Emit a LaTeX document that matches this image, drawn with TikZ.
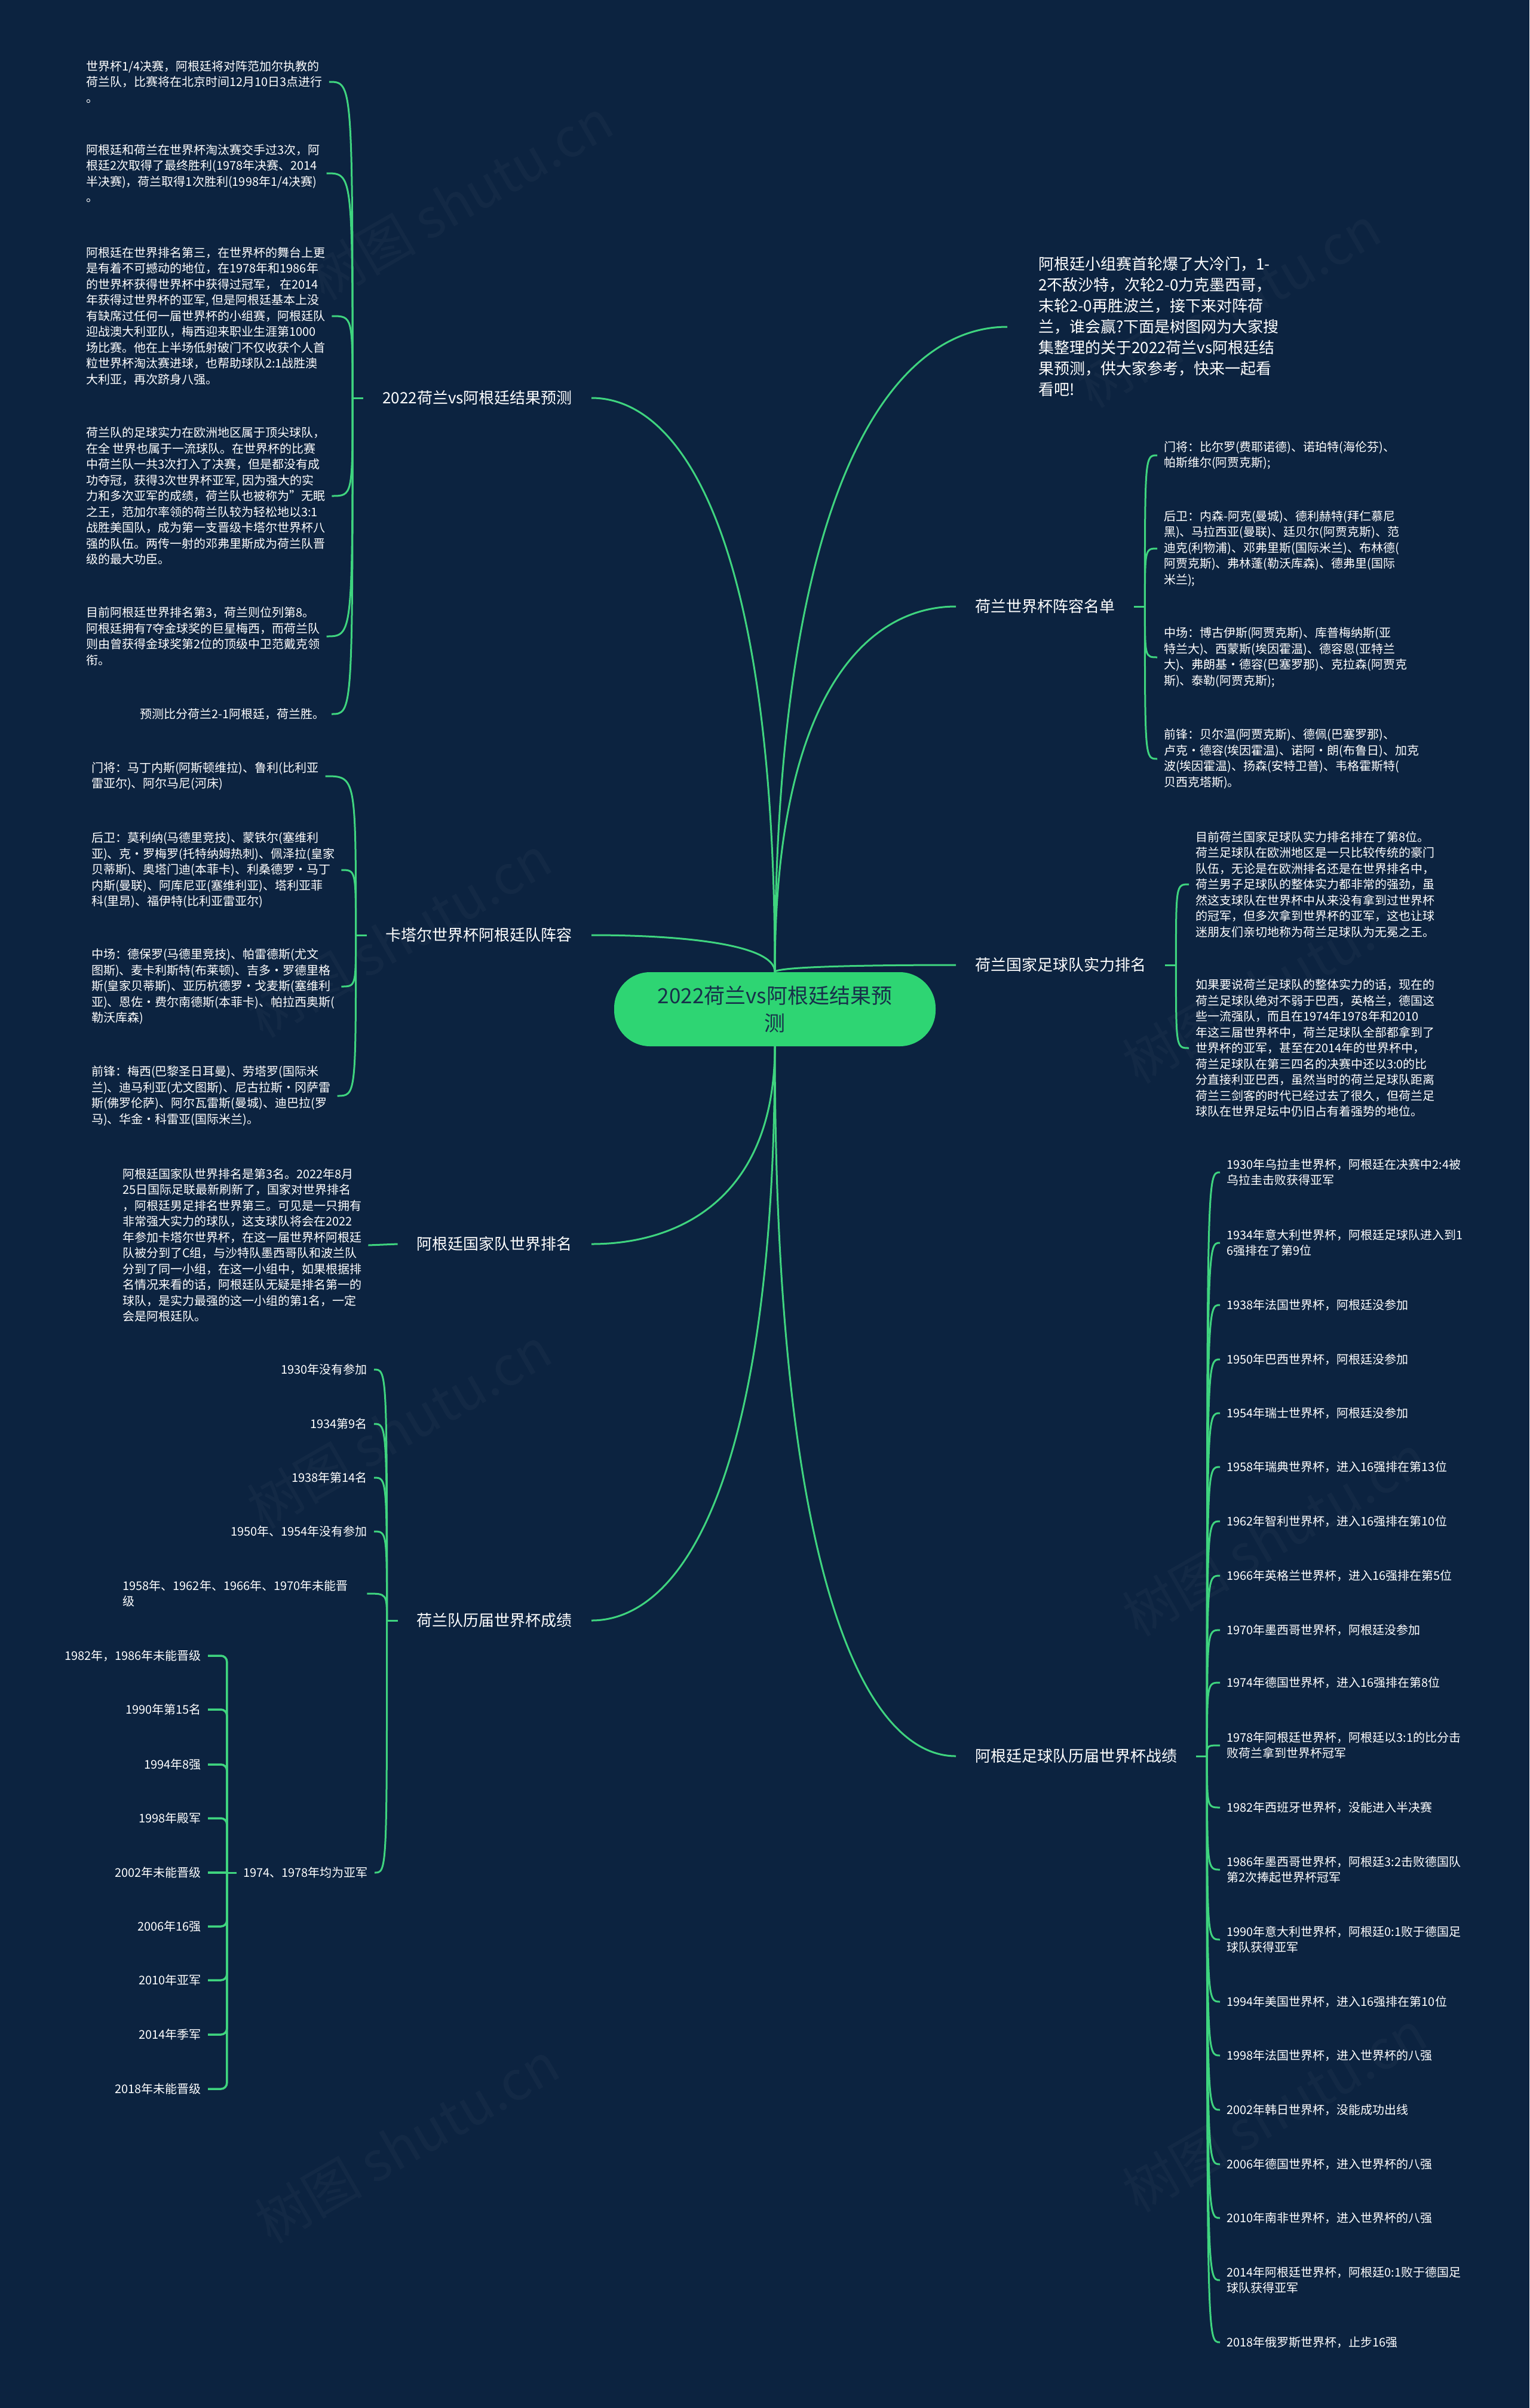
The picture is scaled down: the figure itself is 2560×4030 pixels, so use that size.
\documentclass[tikz,border=0pt]{standalone}
\usepackage{fontspec}
\setmainfont{Noto Sans CJK SC}
\usepackage{tikz}
\usetikzlibrary{calc}
\definecolor{bg}{HTML}{0C2340}
\definecolor{twiggreen}{HTML}{3FD47F}
\definecolor{rootgreen}{HTML}{2ED573}
\definecolor{rootink}{HTML}{17304A}

\begin{document}
\begin{tikzpicture}[x=1pt, y=-1pt,
      root/.style={fill=rootgreen, rounded corners=60pt, minimum width=538pt, minimum height=124pt, align=center, text=rootink, font=\fontsize{35}{46}\selectfont},
      topic/.style={inner xsep=32pt, inner ysep=6pt, text=white, font=\fontsize{26}{34}\selectfont},
      intro/.style={inner xsep=52pt, inner ysep=6pt, align=left, text=white, font=\fontsize{26}{35}\selectfont},
      leaf/.style={inner xsep=11pt, inner ysep=4pt, align=left, text=white, font=\fontsize{20}{26.5}\selectfont},
      trunk/.style={draw=twiggreen, line width=3pt, to path={.. controls ($(\tikztostart)!0.75!(\tikztostart |- \tikztotarget)$) and ($(\tikztotarget)!0.5!(\tikztotarget -| \tikztostart)$) .. (\tikztotarget)}},
      twig/.style={draw=twiggreen, line width=3pt, to path={.. controls (\tikztostart |- \tikztotarget) .. (\tikztotarget)}},
      stub/.style={draw=twiggreen, line width=3pt},
      brace/.style={draw=twiggreen, line width=3.5pt, rounded corners=10pt},
      wmark/.style={rotate=30, text=white, opacity=0.03, font=\fontsize{90}{90}\selectfont}
    ]
    \fill[bg] (0,0) rectangle (2560,4030);
    \useasboundingbox (0,0) rectangle (2560,4030);

    % watermark
    \node[wmark] (wm1) at (771,334) {树图 shutu.cn};
    \node[wmark] (wm2) at (668,1568) {树图 shutu.cn};
    \node[wmark] (wm3) at (668,2390) {树图 shutu.cn};
    \node[wmark] (wm4) at (681,3586) {树图 shutu.cn};
    \node[wmark] (wm5) at (2056,514) {树图 shutu.cn};
    \node[wmark] (wm6) at (2133,1645) {树图 shutu.cn};
    \node[wmark] (wm7) at (2133,2570) {树图 shutu.cn};
    \node[wmark] (wm8) at (2133,3534) {树图 shutu.cn};

    \node[root] (cen) at (1297,1689) {2022荷兰vs阿根廷结果预\\测};

    % main topics
    \node[topic, anchor=east] (pred) at (990,666) {2022荷兰vs阿根廷结果预测};
    \node[topic, anchor=east] (squad) at (990,1565) {卡塔尔世界杯阿根廷队阵容};
    \node[topic, anchor=east] (argrank) at (990,2082) {阿根廷国家队世界排名};
    \node[topic, anchor=east] (nedhist) at (990,2712) {荷兰队历届世界杯成绩};
    \node[intro, anchor=west] (intro) at (1686,547) {阿根廷小组赛首轮爆了大冷门，1-\\2不敌沙特，次轮2-0力克墨西哥，\\末轮2-0再胜波兰，接下来对阵荷\\兰，谁会赢?下面是树图网为大家搜\\集整理的关于2022荷兰vs阿根廷结\\果预测，供大家参考，快来一起看\\看吧!};
    \node[topic, anchor=west] (nedsquad) at (1600,1015) {荷兰世界杯阵容名单};
    \node[topic, anchor=west] (nedrank) at (1600,1615) {荷兰国家足球队实力排名};
    \node[topic, anchor=west] (arghist) at (1600,2939) {阿根廷足球队历届世界杯战绩};

    \draw[trunk] (cen.north) to (pred.east);
    \draw[trunk] (cen.north) to (squad.east);
    \draw[trunk] (cen.south) to (argrank.east);
    \draw[trunk] (cen.south) to (nedhist.east);
    \draw[trunk] (cen.north) to (intro.west);
    \draw[trunk] (cen.north) to (nedsquad.west);
    \draw[trunk] (cen.north) to (nedrank.west);
    \draw[trunk] (cen.south) to (arghist.west);

    % 2022 prediction
    \node[leaf, anchor=west] (pred1) at (133,137) {世界杯1/4决赛，阿根廷将对阵范加尔执教的\\荷兰队，比赛将在北京时间12月10日3点进行\\。};
    \node[leaf, anchor=west] (pred2) at (133,290) {阿根廷和荷兰在世界杯淘汰赛交手过3次，阿\\根廷2次取得了最终胜利(1978年决赛、2014\\半决赛)，荷兰取得1次胜利(1998年1/4决赛)\\。};
    \node[leaf, anchor=west] (pred3) at (133,529) {阿根廷在世界排名第三，在世界杯的舞台上更\\是有着不可撼动的地位，在1978年和1986年\\的世界杯获得世界杯中获得过冠军， 在2014\\年获得过世界杯的亚军, 但是阿根廷基本上没\\有缺席过任何一届世界杯的小组赛，阿根廷队\\迎战澳大利亚队，梅西迎来职业生涯第1000\\场比赛。他在上半场低射破门不仅收获个人首\\粒世界杯淘汰赛进球，也帮助球队2:1战胜澳\\大利亚，再次跻身八强。};
    \node[leaf, anchor=west] (pred4) at (133,830) {荷兰队的足球实力在欧洲地区属于顶尖球队，\\在全 世界也属于一流球队。在世界杯的比赛\\中荷兰队一共3次打入了决赛，但是都没有成\\功夺冠，获得3次世界杯亚军, 因为强大的实\\力和多次亚军的成绩，荷兰队也被称为"无眠\\之王，范加尔率领的荷兰队较为轻松地以3:1\\战胜美国队，成为第一支晋级卡塔尔世界杯八\\强的队伍。两传一射的邓弗里斯成为荷兰队晋\\级的最大功臣。};
    \node[leaf, anchor=west] (pred5) at (133,1065) {目前阿根廷世界排名第3，荷兰则位列第8。\\阿根廷拥有7夺金球奖的巨星梅西，而荷兰队\\则由曾获得金球奖第2位的顶级中卫范戴克领\\衔。};
    \node[leaf, anchor=east] (pred6) at (555,1195) {预测比分荷兰2-1阿根廷，荷兰胜。};

    \draw[stub] (pred.west) -- ++(-18,0) coordinate (predp);
    \draw[twig] (predp) to (pred1.east);
    \draw[twig] (predp) to (pred2.east);
    \draw[twig] (predp) to (pred3.east);
    \draw[twig] (predp) to (pred4.east);
    \draw[twig] (predp) to (pred5.east);
    \draw[twig] (predp) to (pred6.east);

    % Argentina squad
    \node[leaf, anchor=west] (squad1) at (142,1299) {门将：马丁内斯(阿斯顿维拉)、鲁利(比利亚\\雷亚尔)、阿尔马尼(河床)};
    \node[leaf, anchor=west] (squad2) at (142,1456) {后卫：莫利纳(马德里竞技)、蒙铁尔(塞维利\\亚)、克·罗梅罗(托特纳姆热刺)、佩泽拉(皇家\\贝蒂斯)、奥塔门迪(本菲卡)、利桑德罗·马丁\\内斯(曼联)、阿库尼亚(塞维利亚)、塔利亚菲\\科(里昂)、福伊特(比利亚雷亚尔)};
    \node[leaf, anchor=west] (squad3) at (142,1651) {中场：德保罗(马德里竞技)、帕雷德斯(尤文\\图斯)、麦卡利斯特(布莱顿)、吉多·罗德里格\\斯(皇家贝蒂斯)、亚历杭德罗·戈麦斯(塞维利\\亚)、恩佐·费尔南德斯(本菲卡)、帕拉西奥斯(\\勒沃库森)};
    \node[leaf, anchor=west] (squad4) at (142,1834) {前锋：梅西(巴黎圣日耳曼)、劳塔罗(国际米\\兰)、迪马利亚(尤文图斯)、尼古拉斯·冈萨雷\\斯(佛罗伦萨)、阿尔瓦雷斯(曼城)、迪巴拉(罗\\马)、华金·科雷亚(国际米兰)。};

    \draw[stub] (squad.west) -- ++(-18,0) coordinate (squadp);
    \draw[twig] (squadp) to (squad1.east);
    \draw[twig] (squadp) to (squad2.east);
    \draw[twig] (squadp) to (squad3.east);
    \draw[twig] (squadp) to (squad4.east);

    % Argentina ranking
    \node[leaf, anchor=west] (argrank1) at (194,2084) {阿根廷国家队世界排名是第3名。2022年8月\\25日国际足联最新刷新了，国家对世界排名\\，阿根廷男足排名世界第三。可见是一只拥有\\非常强大实力的球队，这支球队将会在2022\\年参加卡塔尔世界杯，在这一届世界杯阿根廷\\队被分到了C组，与沙特队墨西哥队和波兰队\\分到了同一小组，在这一小组中，如果根据排\\名情况来看的话，阿根廷队无疑是排名第一的\\球队，是实力最强的这一小组的第1名，一定\\会是阿根廷队。};
    \draw[stub] (argrank.west) -- (argrank1.east);

    % Netherlands world cup history
    \node[leaf, anchor=east] (n30) at (626,2292) {1930年没有参加};
    \node[leaf, anchor=east] (n34) at (626,2383) {1934第9名};
    \node[leaf, anchor=east] (n38) at (626,2473) {1938年第14名};
    \node[leaf, anchor=east] (n50) at (626,2563) {1950年、1954年没有参加};
    \node[leaf, anchor=west, text width=398pt] (n58) at (194,2667) {1958年、1962年、1966年、1970年未能晋\\级};
    \node[leaf, anchor=east] (n74) at (627,3134) {1974、1978年均为亚军};

    \draw[stub] (nedhist.west) -- ++(-18,0) coordinate (nedp);
    \draw[twig] (nedp) to (n30.east);
    \draw[twig] (nedp) to (n34.east);
    \draw[twig] (nedp) to (n38.east);
    \draw[twig] (nedp) to (n50.east);
    \draw[twig] (nedp) to (n58.east);
    \draw[twig] (nedp) to (n74.east);

    \node[leaf, anchor=east] (y82) at (348,2771) {1982年，1986年未能晋级};
    \node[leaf, anchor=east] (y90) at (348,2861) {1990年第15名};
    \node[leaf, anchor=east] (y94) at (348,2953) {1994年8强};
    \node[leaf, anchor=east] (y98) at (348,3043) {1998年殿军};
    \node[leaf, anchor=east] (y02) at (348,3134) {2002年未能晋级};
    \node[leaf, anchor=east] (y06) at (348,3224) {2006年16强};
    \node[leaf, anchor=east] (y10) at (348,3314) {2010年亚军};
    \node[leaf, anchor=east] (y14) at (348,3405) {2014年季军};
    \node[leaf, anchor=east] (y18) at (348,3496) {2018年未能晋级};

    \draw[stub] (n74.west) -- ++(-16,0) coordinate (runp);
    \draw[brace] (runp) |- (y82.east);
    \draw[brace] (runp) |- (y90.east);
    \draw[brace] (runp) |- (y94.east);
    \draw[brace] (runp) |- (y98.east);
    \draw[brace] (runp) -- (y02.east);
    \draw[brace] (runp) |- (y06.east);
    \draw[brace] (runp) |- (y10.east);
    \draw[brace] (runp) |- (y14.east);
    \draw[brace] (runp) |- (y18.east);

    % Netherlands squad
    \node[leaf, anchor=west] (nsq1) at (1937,762) {门将：比尔罗(费耶诺德)、诺珀特(海伦芬)、\\帕斯维尔(阿贾克斯);};
    \node[leaf, anchor=west] (nsq2) at (1937,918) {后卫：内森-阿克(曼城)、德利赫特(拜仁慕尼\\黑)、马拉西亚(曼联)、廷贝尔(阿贾克斯)、范\\迪克(利物浦)、邓弗里斯(国际米兰)、布林德(\\阿贾克斯)、弗林蓬(勒沃库森)、德弗里(国际\\米兰);};
    \node[leaf, anchor=west] (nsq3) at (1937,1100) {中场：博古伊斯(阿贾克斯)、库普梅纳斯(亚\\特兰大)、西蒙斯(埃因霍温)、德容恩(亚特兰\\大)、弗朗基·德容(巴塞罗那)、克拉森(阿贾克\\斯)、泰勒(阿贾克斯);};
    \node[leaf, anchor=west] (nsq4) at (1937,1270) {前锋：贝尔温(阿贾克斯)、德佩(巴塞罗那)、\\卢克·德容(埃因霍温)、诺阿·朗(布鲁日)、加克\\波(埃因霍温)、扬森(安特卫普)、韦格霍斯特(\\贝西克塔斯)。};

    \draw[stub] (nedsquad.east) -- ++(18,0) coordinate (nsqp);
    \draw[twig] (nsqp) to (nsq1.west);
    \draw[twig] (nsqp) to (nsq2.west);
    \draw[twig] (nsqp) to (nsq3.west);
    \draw[twig] (nsqp) to (nsq4.west);

    % Netherlands strength
    \node[leaf, anchor=west] (nrk1) at (1990,1480) {目前荷兰国家足球队实力排名排在了第8位。\\荷兰足球队在欧洲地区是一只比较传统的豪门\\队伍，无论是在欧洲排名还是在世界排名中，\\荷兰男子足球队的整体实力都非常的强劲，虽\\然这支球队在世界杯中从来没有拿到过世界杯\\的冠军，但多次拿到世界杯的亚军，这也让球\\迷朋友们亲切地称为荷兰足球队为无冕之王。};
    \node[leaf, anchor=west] (nrk2) at (1990,1754) {如果要说荷兰足球队的整体实力的话，现在的\\荷兰足球队绝对不弱于巴西，英格兰，德国这\\些一流强队，而且在1974年1978年和2010\\年这三届世界杯中，荷兰足球队全部都拿到了\\世界杯的亚军，甚至在2014年的世界杯中，\\荷兰足球队在第三四名的决赛中还以3:0的比\\分直接利亚巴西，虽然当时的荷兰足球队距离\\荷兰三剑客的时代已经过去了很久，但荷兰足\\球队在世界足坛中仍旧占有着强势的地位。};

    \draw[stub] (nedrank.east) -- ++(18,0) coordinate (nrkp);
    \draw[twig] (nrkp) to (nrk1.west);
    \draw[twig] (nrkp) to (nrk2.west);

    % Argentina world cup history
    \node[leaf, anchor=west] (a30) at (2042,1962) {1930年乌拉圭世界杯，阿根廷在决赛中2:4被\\乌拉圭击败获得亚军};
    \node[leaf, anchor=west] (a34) at (2042,2080) {1934年意大利世界杯，阿根廷足球队进入到1\\6强排在了第9位};
    \node[leaf, anchor=west] (a38) at (2042,2184) {1938年法国世界杯，阿根廷没参加};
    \node[leaf, anchor=west] (a50) at (2042,2275) {1950年巴西世界杯，阿根廷没参加};
    \node[leaf, anchor=west] (a54) at (2042,2365) {1954年瑞士世界杯，阿根廷没参加};
    \node[leaf, anchor=west] (a58) at (2042,2455) {1958年瑞典世界杯，进入16强排在第13位};
    \node[leaf, anchor=west] (a62) at (2042,2546) {1962年智利世界杯，进入16强排在第10位};
    \node[leaf, anchor=west] (a66) at (2042,2637) {1966年英格兰世界杯，进入16强排在第5位};
    \node[leaf, anchor=west] (a70) at (2042,2728) {1970年墨西哥世界杯，阿根廷没参加};
    \node[leaf, anchor=west] (a74) at (2042,2816) {1974年德国世界杯，进入16强排在第8位};
    \node[leaf, anchor=west] (a78) at (2042,2921) {1978年阿根廷世界杯，阿根廷以3:1的比分击\\败荷兰拿到世界杯冠军};
    \node[leaf, anchor=west] (a82) at (2042,3025) {1982年西班牙世界杯，没能进入半决赛};
    \node[leaf, anchor=west] (a86) at (2042,3129) {1986年墨西哥世界杯，阿根廷3:2击败德国队\\第2次捧起世界杯冠军};
    \node[leaf, anchor=west] (a90) at (2042,3246) {1990年意大利世界杯，阿根廷0:1败于德国足\\球队获得亚军};
    \node[leaf, anchor=west] (a94) at (2042,3350) {1994年美国世界杯，进入16强排在第10位};
    \node[leaf, anchor=west] (a98) at (2042,3440) {1998年法国世界杯，进入世界杯的八强};
    \node[leaf, anchor=west] (a02) at (2042,3531) {2002年韩日世界杯，没能成功出线};
    \node[leaf, anchor=west] (a06) at (2042,3622) {2006年德国世界杯，进入世界杯的八强};
    \node[leaf, anchor=west] (a10) at (2042,3712) {2010年南非世界杯，进入世界杯的八强};
    \node[leaf, anchor=west] (a14) at (2042,3816) {2014年阿根廷世界杯，阿根廷0:1败于德国足\\球队获得亚军};
    \node[leaf, anchor=west] (a18) at (2042,3920) {2018年俄罗斯世界杯，止步16强};

    \draw[stub] (arghist.east) -- ++(18,0) coordinate (ahp);
    \draw[twig] (ahp) to (a30.west);
    \draw[twig] (ahp) to (a34.west);
    \draw[twig] (ahp) to (a38.west);
    \draw[twig] (ahp) to (a50.west);
    \draw[twig] (ahp) to (a54.west);
    \draw[twig] (ahp) to (a58.west);
    \draw[twig] (ahp) to (a62.west);
    \draw[twig] (ahp) to (a66.west);
    \draw[twig] (ahp) to (a70.west);
    \draw[twig] (ahp) to (a74.west);
    \draw[twig] (ahp) to (a78.west);
    \draw[twig] (ahp) to (a82.west);
    \draw[twig] (ahp) to (a86.west);
    \draw[twig] (ahp) to (a90.west);
    \draw[twig] (ahp) to (a94.west);
    \draw[twig] (ahp) to (a98.west);
    \draw[twig] (ahp) to (a02.west);
    \draw[twig] (ahp) to (a06.west);
    \draw[twig] (ahp) to (a10.west);
    \draw[twig] (ahp) to (a14.west);
    \draw[twig] (ahp) to (a18.west);
  \end{tikzpicture}
\end{document}
